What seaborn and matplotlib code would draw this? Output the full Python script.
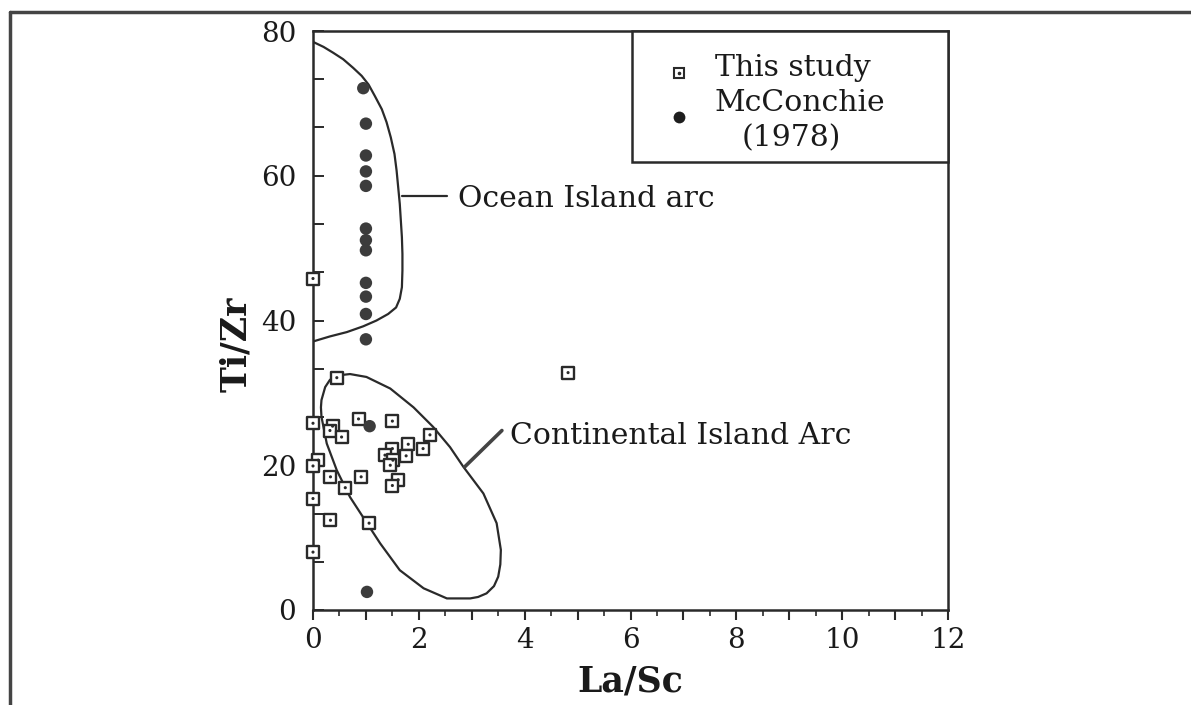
import numpy as np
import matplotlib
matplotlib.use("Agg")
import matplotlib.pyplot as plt
import seaborn as sns
from matplotlib.ticker import MultipleLocator, FixedLocator, FuncFormatter
from matplotlib.patches import Rectangle
from matplotlib.lines import Line2D

# ---- data -------------------------------------------------------------
# This study (La/Sc vs Ti/Zr)
study_la_sc = [0.45, 0.86, 1.50, 0.00, 0.37, 0.32, 0.54, 2.21, 1.80, 2.08,
               1.50, 1.36, 1.76, 1.51, 1.46, 0.10, 0.00, 0.33, 0.91, 0.61,
               1.61, 1.50, 0.00, 0.33, 1.06, 0.00, 0.00, 4.82]
study_ti_zr = [32.1, 26.4, 26.1, 25.8, 25.4, 24.8, 23.9, 24.2, 22.9, 22.3,
               22.3, 21.4, 21.3, 20.7, 20.0, 20.7, 19.9, 18.4, 18.4, 16.9,
               18.0, 17.2, 15.4, 12.4, 12.0, 8.0, 45.8, 32.8]

# McConchie (1978)
mc_la_sc = [0.95, 1.0, 1.0, 1.0, 1.0, 1.0, 1.0, 1.0, 1.0, 1.0, 1.0, 1.0, 1.07, 1.02]
mc_ti_zr = [72.1, 67.2, 62.8, 60.6, 58.6, 52.7, 51.1, 49.7, 45.2, 43.3, 40.9, 37.4, 25.4, 2.5]

# Ocean Island arc field boundary
ocean_x = [0.00, 0.20, 0.38, 0.57, 0.76, 0.92, 1.05, 1.17, 1.30, 1.39, 1.47,
           1.54, 1.58, 1.61, 1.64, 1.66, 1.68, 1.69, 1.69, 1.68, 1.64, 1.57,
           1.42, 1.20, 0.95, 0.64, 0.32, 0.00]
ocean_y = [78.5, 77.8, 77.0, 76.1, 74.9, 73.8, 72.6, 71.0, 69.2, 67.4, 65.3,
           63.0, 60.7, 58.4, 56.1, 53.8, 51.5, 49.2, 46.9, 44.6, 43.0, 41.8,
           40.9, 40.0, 39.2, 38.4, 37.8, 37.1]

# Continental Island Arc field boundary (closed)
cont_x = [0.45, 0.70, 1.01, 1.46, 1.90, 2.27, 2.59, 2.84, 3.22, 3.47, 3.55, 3.54,
          3.50, 3.42, 3.28, 3.12, 2.97, 2.53, 2.09, 1.64, 1.27, 1.02, 0.70, 0.45,
          0.26, 0.16, 0.15, 0.16, 0.23, 0.32, 0.45]
cont_y = [32.4, 32.6, 32.2, 30.6, 28.0, 25.3, 22.5, 19.8, 16.1, 12.0, 8.3, 6.3,
          4.6, 3.3, 2.3, 1.8, 1.6, 1.6, 3.0, 5.5, 9.2, 12.0, 15.6, 19.3,
          23.0, 26.7, 28.0, 29.0, 30.8, 31.8, 32.4]

x_ticks = [0, 2, 4, 6, 8, 10, 12]
y_ticks = [0, 20, 40, 60, 80]

# ---- style ------------------------------------------------------------
sns.set_theme(style="white")
plt.rcParams["font.family"] = ["DejaVu Serif"]
ink = "#2a2a2a"
text_c = "#1a1a1a"

fig = plt.figure(figsize=(11.91, 7.05), dpi=100)
ax = fig.add_axes([313 / 1191, 95 / 705, 635 / 1191, 579 / 705])

# field boundaries
ax.plot(ocean_x, ocean_y, color=ink, lw=1.6, zorder=2)
ax.plot(cont_x, cont_y, color=ink, lw=1.6, zorder=2)

# samples
sns.scatterplot(x=study_la_sc, y=study_ti_zr, marker="s", s=72,
                facecolor="white", edgecolor=ink, linewidth=1.7, ax=ax,
                zorder=3, clip_on=False)
sns.scatterplot(x=study_la_sc, y=study_ti_zr, marker="o", s=5,
                color=ink, edgecolor="none", ax=ax, zorder=4, clip_on=False)
sns.scatterplot(x=mc_la_sc, y=mc_ti_zr, marker="o", s=80,
                color="#3c3c3c", edgecolor="none", ax=ax, zorder=3, clip_on=False)

# field labels with leader lines
ax.plot([1.68, 2.53], [57.2, 57.2], color=ink, lw=1.6, zorder=2)
ax.text(2.74, 56.8, "Ocean Island arc", fontsize=21.5, va="center", ha="left", color=text_c)
ax.plot([2.87, 3.57], [19.8, 24.8], color="#444444", lw=2.6, zorder=2)
ax.text(3.72, 24.1, "Continental Island Arc", fontsize=21.5, va="center", ha="left", color=text_c)

# axes
ax.set_xlim(0, 12)
ax.set_ylim(0, 80)
ax.xaxis.set_major_locator(MultipleLocator(1))
ax.xaxis.set_major_formatter(FuncFormatter(lambda v, p: f"{int(round(v))}" if int(round(v)) in x_ticks else ""))
ax.xaxis.set_minor_locator(MultipleLocator(0.5))
ax.yaxis.set_major_locator(FixedLocator(y_ticks))
ax.yaxis.set_minor_locator(FixedLocator(np.arange(0, 80.01, 20 / 3)))

ax.tick_params(axis="x", which="major", direction="out", length=7, width=1.5,
               colors=ink, labelsize=20, pad=5, bottom=True)
ax.tick_params(axis="x", which="minor", direction="out", length=4, width=1.2,
               colors=ink, bottom=True)
ax.tick_params(axis="y", which="both", direction="in", length=8, width=1.4,
               colors=ink, labelsize=20, pad=12, left=True)
for lab in ax.get_xticklabels() + ax.get_yticklabels():
    lab.set_color(text_c)

for sp in ax.spines.values():
    sp.set_color(ink)
    sp.set_linewidth(1.8)

ax.set_xlabel("La/Sc", fontsize=25, fontweight="bold", labelpad=8, color=text_c)
ax.set_ylabel("Ti/Zr", fontsize=25, fontweight="bold", color=text_c)
ax.yaxis.set_label_coords(-0.094, 0.459)

# legend box
ax.add_patch(Rectangle((0.502, 0.773), 0.498, 0.227, transform=ax.transAxes,
                       facecolor="white", edgecolor=ink, lw=1.8, zorder=5, clip_on=False))
ax.plot([0.576], [0.927], marker="s", ms=6.5, mfc="white", mec=ink, mew=1.5,
        transform=ax.transAxes, zorder=6, clip_on=False)
ax.plot([0.576], [0.927], marker="o", ms=1.6, color=ink,
        transform=ax.transAxes, zorder=7, clip_on=False)
ax.plot([0.576], [0.851], marker="o", ms=8.5, color="#1e1e1e", mec="none",
        transform=ax.transAxes, zorder=6, clip_on=False)
ax.text(0.756, 0.936, "This study", fontsize=21.5, ha="center", va="center",
        transform=ax.transAxes, zorder=6, color=text_c)
ax.text(0.767, 0.876, "McConchie", fontsize=21.5, ha="center", va="center",
        transform=ax.transAxes, zorder=6, color=text_c)
ax.text(0.754, 0.815, "(1978)", fontsize=21.5, ha="center", va="center",
        transform=ax.transAxes, zorder=6, color=text_c)

# page frame
fig.add_artist(Line2D([10 / 1191, 1], [1 - 12 / 705, 1 - 12 / 705],
                      transform=fig.transFigure, color="#444444", lw=2.5))
fig.add_artist(Line2D([10 / 1191, 10 / 1191], [0, 1 - 12 / 705],
                      transform=fig.transFigure, color="#444444", lw=2.5))

fig.savefig("out.png", dpi=100, facecolor="white")
